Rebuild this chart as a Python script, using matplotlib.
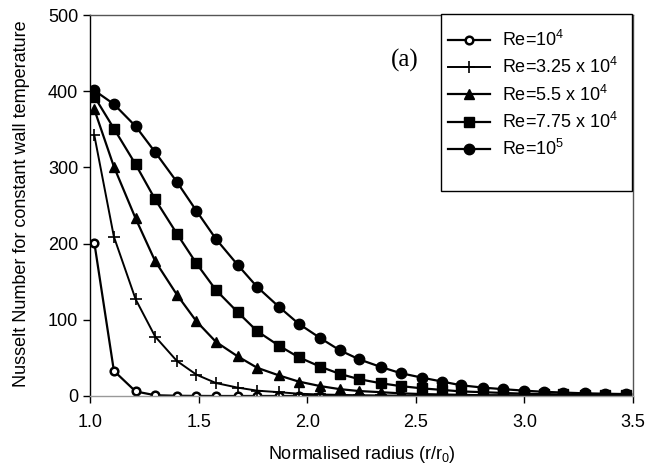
import numpy as np
import matplotlib
matplotlib.use('Agg')
import matplotlib.pyplot as plt
from matplotlib.patches import Rectangle

plt.rcParams['font.family'] = 'Liberation Sans'
plt.rcParams['mathtext.fontset'] = 'custom'
plt.rcParams['mathtext.rm'] = 'Liberation Sans'
plt.rcParams['mathtext.it'] = 'Liberation Sans'
plt.rcParams['mathtext.default'] = 'rm'

# Normalised radius r/r0
radius = [1.02, 1.11, 1.21, 1.30, 1.40, 1.49, 1.58, 1.68, 1.77, 1.87, 1.96,
          2.06, 2.15, 2.24, 2.34, 2.43, 2.53, 2.62, 2.71, 2.81, 2.90, 3.00,
          3.09, 3.18, 3.28, 3.37, 3.47]

# Nusselt number for constant wall temperature
nu_re_1e4 = [201, 33, 6, 1, 0.3, 0.1, 0, 0, 0, 0, 0, 0, 0, 0, 0, 0, 0, 0,
             0, 0, 0, 0, 0, 0, 0, 0, 0]
nu_re_3_25e4 = [342, 209, 127, 78, 46, 28, 17, 11, 7, 5, 3, 2, 1.5, 1, 0.7,
                0.5, 0.4, 0.3, 0.2, 0.2, 0.1, 0.1, 0.1, 0.1, 0.1, 0.1, 0.1]
nu_re_5_5e4 = [376, 301, 233, 177, 133, 98, 71, 52, 37, 27, 19, 13, 9, 6.5,
               5, 3.5, 2.5, 2, 1.5, 1, 1, 0.8, 0.6, 0.5, 0.4, 0.3, 0.3]
nu_re_7_75e4 = [393, 351, 304, 258, 213, 174, 139, 110, 85, 66, 51, 38.5, 29,
                22, 16.7, 13, 10, 8, 6, 5, 4, 3, 2.5, 2, 1.5, 1.2, 1]
nu_re_1e5 = [401, 383, 354, 320, 281, 243, 206, 172, 143, 117, 95, 76, 60, 48,
             38, 30, 24, 19, 14, 11, 9, 7, 5.5, 4.5, 3.5, 3, 2.5]

series_labels = ['Re=10$^4$', 'Re=3.25 x 10$^4$', 'Re=5.5 x 10$^4$',
                 'Re=7.75 x 10$^4$', 'Re=10$^5$']
x_ticks = [1.0, 1.5, 2.0, 2.5, 3.0, 3.5]
y_ticks = [0, 100, 200, 300, 400, 500]

W, H = 657, 470
fig = plt.figure(figsize=(W / 100, H / 100), dpi=100)
ax = fig.add_axes([90 / W, 1 - 396 / H, 543 / W, 381 / H])

# open circles
ax.plot(radius, nu_re_1e4, color='black', lw=1.6, marker='o', ms=5.5,
        mfc='white', mec='black', mew=1.8, label=series_labels[0])
# plus
ax.plot(radius, nu_re_3_25e4, color='black', lw=1.4, marker='+', ms=9,
        mew=1.2, label=series_labels[1])
# triangles
ax.plot(radius, nu_re_5_5e4, color='black', lw=1.6, marker='^', ms=7,
        label=series_labels[2])
# squares
ax.plot(radius, nu_re_7_75e4, color='black', lw=1.6, marker='s', ms=6.5,
        label=series_labels[3])
# filled circles
ax.plot(radius, nu_re_1e5, color='black', lw=1.6, marker='o', ms=7.5,
        label=series_labels[4])

ax.set_xlim(1.0, 3.5)
ax.set_ylim(0, 500)
ax.set_xticks(x_ticks)
ax.set_xticklabels([f'{t:.1f}' for t in x_ticks])
ax.set_yticks(y_ticks)
ax.tick_params(direction='out', length=5, width=1, labelsize=13, colors='black')
ax.tick_params(axis='x', pad=8)

ax.spines['left'].set_color('black')
ax.spines['bottom'].set_color('#999999')
ax.spines['top'].set_color('#555555')
ax.spines['right'].set_color('#555555')
for s in ax.spines.values():
    s.set_linewidth(1.0)

ax.set_xlabel('Normalised radius (r/r$_0$)', fontsize=13, labelpad=9)
ax.set_ylabel('Nusselt Number for constant wall temperature', fontsize=13)
ax.yaxis.set_label_coords(-60 / 543, 0.505)

ax.text(2.45, 441, '(a)', family='Liberation Serif', fontsize=18,
        ha='center', va='center')

# legend box drawn like the Excel one (frame separate from the entries)
fig.patches.append(Rectangle((441 / W, 1 - 191 / H), 191 / W, 177 / H,
                             transform=fig.transFigure, facecolor='white',
                             edgecolor='black', lw=1.0, zorder=5))
leg = fig.legend(*ax.get_legend_handles_labels(), loc='upper left',
                 bbox_to_anchor=(448 / W, 1 - 30 / H), fontsize=13,
                 frameon=False, handlelength=2.3, labelspacing=0.4,
                 borderpad=0, handletextpad=0.7, borderaxespad=0)
leg.set_zorder(6)

fig.savefig('out.png', dpi=100)
